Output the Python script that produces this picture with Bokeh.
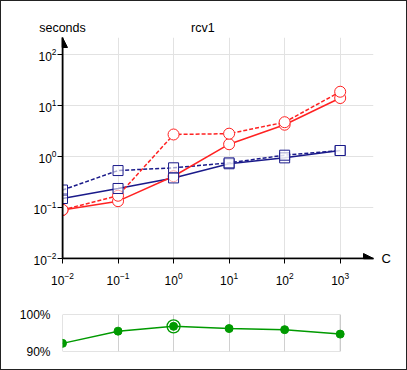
from bokeh.plotting import figure
from bokeh.layouts import column
from bokeh.models import (Range1d, FixedTicker, Arrow, NormalHead, LogAxis,
                          PrintfTickFormatter, ColumnDataSource)
from bokeh.embed import file_html
from bokeh.resources import INLINE

# ---- data ----
C_values = [1e-2, 1e-1, 1e0, 1e1, 1e2, 1e3]
red_solid = [0.089, 0.133, 0.41, 1.74, 4.2, 14.0]
red_dashed = [0.09, 0.17, 2.7, 2.8, 4.7, 18.6]
blue_solid = [0.15, 0.236, 0.38, 0.72, 0.94, 1.31]
blue_dashed = [0.22, 0.53, 0.60, 0.75, 1.06, 1.31]
accuracy = [92.2, 95.5, 96.8, 96.2, 95.9, 94.7]
best_index = 2
title_text = "rcv1"
y_label = "seconds"
x_label = "C"
y_ticks = [1e-2, 1e-1, 1e0, 1e1, 1e2]
acc_ticks = [90, 100]

FONT = "Liberation Sans"
RED = "#ff2222"
BLUE = "#1a1a8a"
GREEN = "#009a00"

x_lo, x_hi = 1e-2, 10 ** 3.6
y_lo, y_hi = 1e-2, 10 ** 2.333
title_x = 10 ** 0.527

W = 405
p1 = figure(width=W, height=295, x_axis_type="log", y_axis_type="log",
            x_range=Range1d(x_lo, x_hi), y_range=Range1d(y_lo, y_hi),
            output_backend="svg", toolbar_location=None,
            min_border_left=61, min_border_right=33, min_border_top=36,
            min_border_bottom=38)
p1.outline_line_color = None
p1.background_fill_color = "white"
p1.border_fill_color = "white"
for ax in (p1.xaxis, p1.yaxis):
    ax.axis_line_color = "black"
    ax.axis_line_width = 1.6
    ax.major_tick_line_color = "black"
    ax.major_tick_line_width = 1
    ax.major_tick_out = 5
    ax.major_tick_in = 0
    ax.minor_tick_line_color = None
    ax.major_label_text_font = FONT
    ax.major_label_text_font_size = "12px"
    ax.major_label_text_color = "black"
p1.xaxis.ticker = FixedTicker(ticks=C_values)
p1.yaxis.ticker = FixedTicker(ticks=y_ticks)
p1.xaxis.major_label_standoff = 8
p1.yaxis.major_label_standoff = 1
p1.xgrid.grid_line_color = "#e2e2e2"
p1.ygrid.grid_line_color = "#e2e2e2"

# texts around the frame, as tick labels of extra axes
top_axis = LogAxis(ticker=FixedTicker(ticks=[x_lo, title_x]),
                   major_label_overrides={x_lo: y_label, title_x: title_text},
                   axis_line_color=None, major_tick_line_color=None,
                   minor_tick_line_color=None, major_tick_out=0,
                   major_label_standoff=3,
                   major_label_text_font=FONT, major_label_text_font_size="12.5px",
                   major_label_text_color="black")
p1.add_layout(top_axis, "above")
right_axis = LogAxis(ticker=FixedTicker(ticks=[y_lo]),
                     major_label_overrides={y_lo: x_label},
                     axis_line_color=None, major_tick_line_color=None,
                     minor_tick_line_color=None, major_tick_out=0,
                     major_label_standoff=8,
                     major_label_text_font=FONT, major_label_text_font_size="13px",
                     major_label_text_color="black")
p1.add_layout(right_axis, "right")

src = ColumnDataSource(dict(x=C_values, rs=red_solid, rd=red_dashed,
                            bs=blue_solid, bd=blue_dashed))

p1.line("x", "bd", source=src, line_color=BLUE, line_width=1.5, line_dash="4 2")
p1.line("x", "bs", source=src, line_color=BLUE, line_width=1.5)
p1.line("x", "rd", source=src, line_color=RED, line_width=1.5, line_dash="4 2")
p1.line("x", "rs", source=src, line_color=RED, line_width=1.5)
p1.scatter("x", "rs", source=src, marker="circle", size=11, line_color=RED,
           fill_color="white", line_width=1)
p1.scatter("x", "rd", source=src, marker="circle", size=11, line_color=RED,
           fill_color="white", line_width=1)
p1.scatter("x", "bs", source=src, marker="square", size=10, line_color=BLUE,
           fill_color="white", fill_alpha=0.6, line_width=1)
p1.scatter("x", "bd", source=src, marker="square", size=10, line_color=BLUE,
           fill_color="white", fill_alpha=0.6, line_width=1)

p1.add_layout(Arrow(end=NormalHead(size=10, fill_color="black", line_color="black"),
                    x_start=x_lo, y_start=y_lo, x_end=x_lo, y_end=y_hi,
                    line_color="black", line_width=1.6))
p1.add_layout(Arrow(end=NormalHead(size=10, fill_color="black", line_color="black"),
                    x_start=x_lo, y_start=y_lo, x_end=x_hi, y_end=y_lo,
                    line_color="black", line_width=1.6))

# ---- accuracy panel ----
p2 = figure(width=W, height=73, x_axis_type="log",
            x_range=Range1d(x_lo, x_hi), y_range=Range1d(acc_ticks[0], acc_ticks[1]),
            output_backend="svg", toolbar_location=None,
            min_border_left=61, min_border_right=33, min_border_top=18,
            min_border_bottom=18)
p2.outline_line_color = None
p2.border_fill_color = "white"
p2.xaxis.visible = False
p2.xgrid.ticker = FixedTicker(ticks=C_values)
p2.xgrid.grid_line_color = "#d0d0d0"
p2.ygrid.grid_line_color = None
p2.yaxis.ticker = FixedTicker(ticks=acc_ticks)
p2.yaxis.formatter = PrintfTickFormatter(format="%d%%")
p2.yaxis.axis_line_color = None
p2.yaxis.major_tick_line_color = None
p2.yaxis.minor_tick_line_color = None
p2.yaxis.major_label_standoff = 6
p2.yaxis.major_label_text_font = FONT
p2.yaxis.major_label_text_font_size = "12px"
p2.yaxis.major_label_text_color = "black"

p2.quad(left=[C_values[0]], right=[C_values[-1]], bottom=[acc_ticks[0]],
        top=[acc_ticks[1]], fill_color=None, line_color="#c8c8c8", line_width=1)
p2.line(C_values, accuracy, line_color=GREEN, line_width=1.5)
p2.scatter(C_values, accuracy, marker="circle", size=8, fill_color=GREEN,
           line_color=GREEN)
p2.scatter([C_values[best_index]], [accuracy[best_index]], marker="circle",
           size=13, fill_color=None, line_color=GREEN, line_width=1.3)

layout = column(p1, p2, spacing=0,
                styles={"border": "1px solid #222", "background-color": "white"})

open("out.html", "w").write(file_html(layout, INLINE))
